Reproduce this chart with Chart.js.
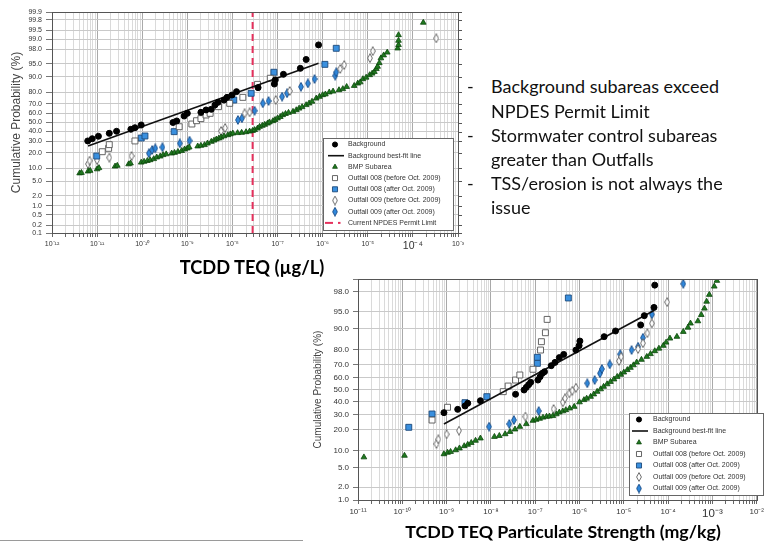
<!DOCTYPE html>
<html>
<head>
<meta charset="utf-8">
<script src="https://cdn.jsdelivr.net/npm/chart.js@4.4.1/dist/chart.umd.min.js"></script>
<style>
  html, body { margin: 0; padding: 0; background: #fff; }
  body { width: 767px; height: 543px; position: relative; overflow: hidden; }
  .box { position: absolute; }
  .xtitle { position: absolute; font-family: Lato, sans-serif; font-weight: bold; color: #000; text-align: center; white-space: nowrap; }
  .bl { position: absolute; left: 491px; font-family: Lato, sans-serif; font-size: 18px; line-height: 24.2px; color: #111; white-space: nowrap; }
  .bl .dash { position: absolute; left: -24px; }
  #rule { position: absolute; left: 0; top: 540px; width: 303px; height: 1px; background: #9a9a9a; }
</style>
</head>
<body>
<div class="box" style="left:0;top:0;width:470px;height:250px"><canvas id="topChart" width="470" height="250"></canvas></div>
<div class="box" style="left:300px;top:268px;width:467px;height:275px"><canvas id="botChart" width="467" height="275"></canvas></div>

<div class="xtitle" style="left:152px;top:258px;width:200px;font-size:18.3px;line-height:18px">TCDD TEQ (µg/L)</div>
<div class="xtitle" style="left:363px;top:522px;width:400px;font-size:17.8px;line-height:18px">TCDD TEQ Particulate Strength (mg/kg)</div>

<div class="bl" style="top:74.3px"><span class="dash">-</span>Background subareas exceed</div>
<div class="bl" style="top:98.5px">NPDES Permit Limit</div>
<div class="bl" style="top:122.7px"><span class="dash">-</span>Stormwater control subareas</div>
<div class="bl" style="top:146.9px">greater than Outfalls</div>
<div class="bl" style="top:171.1px"><span class="dash">-</span>TSS/erosion is not always the</div>
<div class="bl" style="top:195.3px">issue</div>
<div id="rule"></div>

<script>
// [concentration, cumulative probability %]
const seriesLabels = ['Background', 'Background best-fit line', 'BMP Subarea',
  'Outfall 008 (before Oct. 2009)', 'Outfall 008 (after Oct. 2009)',
  'Outfall 009 (before Oct. 2009)', 'Outfall 009 (after Oct. 2009)', 'Current NPDES Permit Limit'];

const topProbTicks = [0.1, 0.2, 0.5, 1, 2, 5, 10, 20, 30, 40, 50, 60, 70, 80, 90, 95, 98, 99, 99.5, 99.8, 99.9];
const botProbTicks = [1, 2, 5, 10, 20, 30, 40, 50, 60, 70, 80, 90, 95, 98, 99];
const permitLimit = 2.8e-8;

const topBackground = [[6.2e-12, 30.3], [7.8e-12, 32.5], [1.07e-11, 35.0], [1.86e-11, 38.1], [2.7e-11, 40.3],
  [5.6e-11, 42.5], [6.9e-11, 44.2], [9.5e-11, 47.2], [4.8e-10, 50.0], [5.8e-10, 51.7], [8.5e-10, 57.2],
  [1.0e-9, 60.1], [2.0e-9, 61.2], [2.6e-9, 63.7], [3.4e-9, 64.4], [4.1e-9, 68.8], [4.8e-9, 71.4],
  [6.5e-9, 73.5], [7.6e-9, 75.9], [9.8e-9, 77.9], [1.23e-8, 80.6], [3.7e-8, 83.5], [8.5e-8, 85.9],
  [8.9e-8, 88.3], [1.35e-7, 91.1], [3.2e-7, 93.5], [4.3e-7, 96.1], [8.1e-7, 98.5]];
const topFit = [[6.3e-12, 25.6], [8.1e-7, 95.1]];
const topBmp = [[4.1e-12, 7.8], [4.5e-12, 8.0], [6.3e-12, 8.6], [7.0e-12, 8.9], [1.0e-11, 9.6], [1.1e-11, 10.2],
  [2.5e-11, 11.0], [2.8e-11, 11.4], [5.0e-11, 12.2], [5.5e-11, 12.7], [9.5e-11, 13.2], [1.1e-10, 13.7],
  [1.3e-10, 14.2], [1.5e-10, 14.7], [1.8e-10, 15.4], [2.1e-10, 16.5], [2.5e-10, 17.2], [2.9e-10, 18.2],
  [3.4e-10, 18.8], [4.5e-10, 19.4], [5.2e-10, 19.9], [6.2e-10, 20.7], [7.5e-10, 21.4], [8.7e-10, 22.7],
  [1.0e-9, 23.5], [1.1e-9, 24.4], [1.7e-9, 25.3], [2.0e-9, 25.9], [2.4e-9, 26.5], [2.8e-9, 28.0],
  [3.4e-9, 29.6], [3.9e-9, 30.8], [4.4e-9, 31.9], [5.0e-9, 32.9], [5.6e-9, 33.9], [6.5e-9, 35.2],
  [7.9e-9, 36.3], [9.0e-9, 37.2], [1.02e-8, 38.1], [1.3e-8, 38.5], [1.6e-8, 38.8], [2.0e-8, 39.5],
  [2.4e-8, 40.2], [2.8e-8, 40.9], [3.1e-8, 41.8], [3.6e-8, 43.5], [4.0e-8, 45.3], [4.6e-8, 46.5],
  [5.2e-8, 47.6], [6.0e-8, 49.0], [6.6e-8, 50.3], [7.9e-8, 51.7], [8.8e-8, 53.0], [1.0e-7, 54.7],
  [1.15e-7, 56.3], [1.3e-7, 58.3], [1.5e-7, 59.6], [1.75e-7, 60.8], [2.2e-7, 61.9], [2.6e-7, 63.6],
  [3.0e-7, 65.3], [3.5e-7, 66.8], [4.3e-7, 68.8], [5.0e-7, 70.4], [5.8e-7, 72.1], [7.2e-7, 75.0],
  [8.5e-7, 76.5], [1.0e-6, 77.9], [1.15e-6, 78.5], [1.4e-6, 80.1], [1.7e-6, 80.8], [2.3e-6, 81.8],
  [2.8e-6, 82.6], [3.4e-6, 84.1], [5.0e-6, 84.8], [6.0e-6, 86.3], [6.8e-6, 87.0], [7.8e-6, 88.8],
  [9.2e-6, 89.6], [1.1e-5, 90.8], [1.25e-5, 91.5], [1.4e-5, 92.2], [1.55e-5, 93.3], [1.65e-5, 94.1],
  [1.8e-5, 95.2], [1.95e-5, 96.4], [2.25e-5, 97.0], [2.7e-5, 97.5], [4.6e-5, 98.1], [4.8e-5, 98.5],
  [4.8e-5, 98.9], [4.8e-5, 99.28], [1.7e-4, 99.74]];
const topOut008Before = [[1.3e-11, 20.7], [1.8e-11, 23.5], [1.86e-11, 26.8], [6.9e-11, 30.3], [6.6e-10, 45.3],
  [1.26e-9, 48.3], [1.6e-9, 52.0], [2.0e-9, 54.3], [2.6e-9, 58.3], [3.2e-9, 60.1], [4.9e-9, 67.1],
  [8.7e-9, 70.4], [1.7e-8, 75.9], [3.6e-8, 85.7], [6.9e-8, 89.2]];
const topOut008After = [[9.8e-12, 17.4], [9.5e-11, 33.2], [1.15e-10, 35.3], [5.1e-10, 39.9], [1.07e-8, 73.5],
  [2.6e-8, 79.3], [8.3e-8, 92.0], [1.12e-6, 94.8], [2.0e-6, 98.1]];
const topOut009Before = [[6.3e-12, 12.3], [6.8e-12, 14.3], [1.0e-11, 14.7], [1.86e-11, 16.3], [5.8e-11, 17.4],
  [5.6e-9, 40.6], [6.9e-9, 43.9], [1.86e-8, 60.1], [2.4e-8, 61.2], [9.1e-8, 73.5], [1.86e-7, 81.1],
  [2.45e-6, 93.3], [3.0e-6, 94.6], [1.12e-5, 96.4], [1.29e-5, 97.7], [3.3e-4, 99.07]];
const topOut009After = [[1.4e-10, 19.4], [1.66e-10, 22.1], [1.95e-10, 23.5], [2.8e-10, 24.4], [6.8e-10, 28.0],
  [1.12e-9, 30.6], [1.32e-8, 52.8], [1.62e-8, 54.7], [3.1e-8, 62.9], [4.7e-8, 70.4], [6.3e-8, 72.6],
  [1.26e-7, 76.5], [1.62e-7, 79.3], [3.3e-7, 84.1], [4.7e-7, 86.3], [6.6e-7, 88.8], [1.9e-6, 90.5], [2.0e-6, 92.0]];

const botBackground = [[8.7e-10, 31.3], [1.78e-9, 33.8], [2.6e-9, 36.4], [3.0e-9, 38.6], [5.8e-9, 40.7],
  [3.6e-8, 46.0], [5.6e-8, 49.6], [6.3e-8, 51.8], [7.1e-8, 54.0], [7.9e-8, 56.0], [1.15e-7, 57.9],
  [1.29e-7, 60.6], [1.45e-7, 63.3], [1.62e-7, 64.6], [2.3e-7, 69.2], [2.8e-7, 71.6], [3.5e-7, 74.9],
  [4.4e-7, 77.0], [8.3e-7, 79.7], [9.8e-7, 82.2], [1.02e-6, 84.6], [3.6e-6, 86.7], [6.5e-6, 89.1],
  [2.4e-5, 91.3], [2.9e-5, 94.0], [4.8e-5, 95.8], [5.0e-5, 98.6]];
const botFit = [[8.7e-10, 23.4], [4.8e-5, 95.2]];
const botBmp = [[1.36e-11, 7.7], [1.12e-10, 8.2], [8.7e-10, 8.7], [1.05e-9, 9.2], [1.23e-9, 9.5], [1.6e-9, 10.1],
  [1.95e-9, 10.8], [2.5e-9, 11.7], [3.0e-9, 12.3], [3.6e-9, 13.1], [4.5e-9, 14.1], [5.8e-9, 15.2],
  [1.2e-8, 16.0], [1.55e-8, 16.5], [2.1e-8, 17.4], [2.7e-8, 18.7], [3.5e-8, 20.1], [4.5e-8, 21.7],
  [6.3e-8, 23.4], [8.9e-8, 25.6], [1.05e-7, 26.3], [1.26e-7, 27.0], [1.5e-7, 27.8], [1.8e-7, 28.4],
  [2.1e-7, 28.6], [2.5e-7, 28.9], [3.0e-7, 30.2], [3.5e-7, 31.5], [4.2e-7, 32.4], [4.9e-7, 33.3],
  [6.0e-7, 34.6], [7.6e-7, 35.9], [1.0e-6, 39.5], [1.26e-6, 41.3], [1.45e-6, 42.5], [1.78e-6, 44.0],
  [2.1e-6, 46.0], [2.5e-6, 48.2], [3.0e-6, 50.3], [3.5e-6, 52.4], [4.2e-6, 54.5], [5.0e-6, 56.5],
  [6.0e-6, 58.5], [7.1e-6, 60.6], [8.5e-6, 62.3], [1.0e-5, 64.1], [1.2e-5, 66.0], [1.41e-5, 67.7],
  [1.65e-5, 69.6], [1.95e-5, 71.6], [2.5e-5, 73.5], [3.3e-5, 75.5], [4.0e-5, 77.3], [5.0e-5, 79.1],
  [6.2e-5, 80.6], [7.8e-5, 82.2], [9.0e-5, 83.9], [1.1e-4, 85.9], [1.58e-4, 86.7], [2.2e-4, 88.8],
  [2.8e-4, 90.4], [3.2e-4, 91.8], [4.7e-4, 92.5], [5.6e-4, 94.2], [6.6e-4, 95.6], [7.4e-4, 96.8],
  [8.5e-4, 97.7], [1.1e-3, 98.5], [1.26e-3, 98.9]];
const botOut008Before = [[4.7e-10, 26.0], [1.05e-9, 35.4], [1.9e-8, 48.2], [2.45e-8, 52.9], [3.6e-8, 57.9],
  [4.5e-8, 62.0], [8.9e-8, 66.5], [1.32e-7, 79.7], [1.38e-7, 84.3], [1.7e-7, 88.4], [1.86e-7, 93.0]];
const botOut008After = [[1.4e-10, 21.3], [4.7e-10, 30.3], [2.6e-9, 39.1], [8.1e-9, 44.0], [1.12e-7, 70.9],
  [1.12e-7, 75.1], [5.6e-7, 97.3]];
const botOut009Before = [[5.9e-10, 12.6], [6.5e-10, 14.7], [1.0e-9, 17.3], [1.9e-9, 19.3], [6.0e-8, 28.4],
  [2.6e-7, 34.1], [4.2e-7, 39.4], [4.7e-7, 42.6], [5.9e-7, 46.8], [6.9e-7, 49.0], [8.3e-7, 51.5],
  [7.8e-6, 72.6], [8.7e-6, 75.5], [2.1e-5, 80.3], [2.7e-5, 83.5], [3.4e-5, 88.2], [4.3e-5, 91.8], [9.5e-5, 96.7]];
const botOut009After = [[9.1e-9, 21.7], [2.6e-8, 23.4], [3.3e-8, 26.0], [1.2e-7, 32.5], [1.5e-6, 55.2],
  [2.2e-6, 57.9], [2.9e-6, 63.3], [3.2e-6, 66.7], [4.8e-6, 70.2], [8.3e-6, 77.1], [1.5e-5, 79.7],
  [2.1e-5, 81.6], [2.7e-5, 86.2], [4.3e-5, 94.3], [2.2e-4, 98.7]];

// inverse normal (Acklam) - probability axis
function probit(p) {
  const a = [-3.969683028665376e+01, 2.209460984245205e+02, -2.759285104469687e+02, 1.383577518672690e+02, -3.066479806614716e+01, 2.506628277459239e+00];
  const b = [-5.447609879822406e+01, 1.615858368580409e+02, -1.556989798598866e+02, 6.680131188771972e+01, -1.328068155288572e+01];
  const c = [-7.784894002430293e-03, -3.223964580411365e-01, -2.400758277161838e+00, -2.549732539343734e+00, 4.374664141464968e+00, 2.938163982698783e+00];
  const d = [7.784695709041462e-03, 3.224671290700398e-01, 2.445134137142996e+00, 3.754408661907416e+00];
  let q, r;
  if (p < 0.02425) {
    q = Math.sqrt(-2 * Math.log(p));
    return (((((c[0]*q+c[1])*q+c[2])*q+c[3])*q+c[4])*q+c[5]) / ((((d[0]*q+d[1])*q+d[2])*q+d[3])*q+1);
  }
  if (p > 1 - 0.02425) {
    q = Math.sqrt(-2 * Math.log(1 - p));
    return -(((((c[0]*q+c[1])*q+c[2])*q+c[3])*q+c[4])*q+c[5]) / ((((d[0]*q+d[1])*q+d[2])*q+d[3])*q+1);
  }
  q = p - 0.5; r = q * q;
  return (((((a[0]*r+a[1])*r+a[2])*r+a[3])*r+a[4])*r+a[5])*q / (((((b[0]*r+b[1])*r+b[2])*r+b[3])*r+b[4])*r+1);
}

function pts(arr) {
  return arr.map(d => ({ x: d[0], y: probit(d[1] / 100) }));
}

function diamond(fill, stroke) {
  const c = document.createElement('canvas');
  c.width = 6; c.height = 10;
  const g = c.getContext('2d');
  g.beginPath();
  g.moveTo(3, 0.6); g.lineTo(5.4, 5); g.lineTo(3, 9.4); g.lineTo(0.6, 5); g.closePath();
  g.fillStyle = fill; g.fill();
  g.lineWidth = 0.9; g.strokeStyle = stroke; g.stroke();
  return c;
}
const openDiamond = diamond('#ffffff', '#5e5e5e');
const blueDiamond = diamond('#2f88dc', '#1c4c86');

const supMap = { '-': '\u207b', '0': '\u2070', '1': '\u00b9', '2': '\u00b2', '3': '\u00b3', '4': '\u2074',
  '5': '\u2075', '6': '\u2076', '7': '\u2077', '8': '\u2078', '9': '\u2079' };
function sup(n) { return String(n).split('').map(ch => supMap[ch]).join(''); }

function logTicks(lo, hi) {
  const t = [];
  for (let e = lo; e <= hi; e++) {
    for (let m = 1; m <= 9; m++) {
      if (e === hi && m > 1) break;
      t.push({ value: m * Math.pow(10, e), major: m === 1 });
    }
  }
  return t;
}

function buildSets(s) {
  return [
    { label: seriesLabels[0], data: pts(s.bg), pointStyle: 'circle', pointRadius: 3, backgroundColor: '#000', borderColor: '#000', borderWidth: 1 },
    { label: seriesLabels[1], data: pts(s.fit), showLine: true, pointRadius: 0, borderColor: '#111', borderWidth: 1.6 },
    { label: seriesLabels[2], data: pts(s.bmp), pointStyle: 'triangle', pointRadius: 3.3, backgroundColor: '#1f7a1f', borderColor: '#0c460c', borderWidth: 0.8 },
    { label: seriesLabels[3], data: pts(s.o8b), pointStyle: 'rect', pointRadius: 4.2, backgroundColor: '#fff', borderColor: '#555', borderWidth: 0.9 },
    { label: seriesLabels[4], data: pts(s.o8a), pointStyle: 'rect', pointRadius: 4.2, backgroundColor: '#3a90df', borderColor: '#1d4a7a', borderWidth: 0.9 },
    { label: seriesLabels[5], data: pts(s.o9b), pointStyle: openDiamond, pointRadius: 4, backgroundColor: '#fff', borderColor: '#5e5e5e', borderWidth: 0.9 },
    { label: seriesLabels[6], data: pts(s.o9a), pointStyle: blueDiamond, pointRadius: 4, backgroundColor: '#2f88dc', borderColor: '#1c4c86', borderWidth: 0.9 }
  ];
}

// frame round the plot area
const framePlugin = {
  id: 'frame',
  afterDatasetsDraw(chart, args, o) {
    const { ctx, chartArea: a } = chart;
    ctx.save();
    ctx.strokeStyle = '#555';
    ctx.lineWidth = 1;
    ctx.strokeRect(Math.round(a.left) + 0.5, Math.round(a.top) + 0.5, Math.round(a.right - a.left), Math.round(a.bottom - a.top));
    if (o.rightTicks) {
      chart.scales.y.ticks.forEach(t => {
        const y = Math.round(chart.scales.y.getPixelForValue(t.value)) + 0.5;
        ctx.beginPath(); ctx.moveTo(a.right, y); ctx.lineTo(a.right + 4, y); ctx.stroke();
      });
    }
    ctx.restore();
  }
};

// legend drawn inside the plot
const innerLegend = {
  id: 'innerLegend',
  afterDraw(chart, args, o) {
    const ctx = chart.ctx;
    ctx.save();
    ctx.fillStyle = '#fff';
    ctx.fillRect(o.x, o.y, o.w, o.h);
    ctx.strokeStyle = '#666';
    ctx.lineWidth = 1;
    ctx.strokeRect(o.x + 0.5, o.y + 0.5, o.w, o.h);
    ctx.font = '7px "Liberation Sans", Arial, sans-serif';
    ctx.textBaseline = 'middle';
    chart.data.datasets.forEach((ds, i) => {
      const y = o.row0 + i * o.rowH;
      ctx.strokeStyle = ds.borderColor;
      ctx.lineWidth = ds.borderWidth;
      if (ds.showLine && ds.borderDash) {
        ctx.beginPath(); ctx.moveTo(o.symX - 10, y); ctx.lineTo(o.symX - 2, y); ctx.stroke();
        ctx.beginPath(); ctx.moveTo(o.symX + 3, y); ctx.lineTo(o.symX + 5.5, y); ctx.stroke();
      } else if (ds.showLine) {
        ctx.beginPath(); ctx.moveTo(o.symX - 7, y); ctx.lineTo(o.symX + 9, y); ctx.stroke();
      } else {
        ctx.fillStyle = ds.backgroundColor;
        Chart.helpers.drawPoint(ctx, { pointStyle: ds.pointStyle, radius: ds.pointRadius * 0.85, borderWidth: ds.borderWidth, rotation: 0 }, o.symX, y);
      }
      ctx.fillStyle = '#333';
      ctx.fillText(ds.label, o.textX, y);
    });
    ctx.restore();
  }
};

Chart.defaults.font.family = '"Liberation Sans", Arial, sans-serif';

function makeChart(id, cfg) {
  new Chart(document.getElementById(id), {
    type: 'scatter',
    data: { datasets: cfg.datasets },
    options: {
      responsive: false,
      animation: false,
      events: [],
      layout: { padding: cfg.padding },
      plugins: { legend: { display: false }, tooltip: { enabled: false }, frame: cfg.frame, innerLegend: cfg.legend },
      scales: {
        x: {
          type: 'logarithmic',
          min: cfg.xMin, max: cfg.xMax,
          afterBuildTicks: s => { s.ticks = logTicks(Math.round(Math.log10(cfg.xMin)), Math.round(Math.log10(cfg.xMax))); },
          afterFit: s => { s.height = cfg.xHeight; },
          border: { display: false },
          grid: { color: c => (c.tick && c.tick.major ? '#a9a9a9' : '#dadada'), tickLength: 4, tickColor: '#666' },
          ticks: {
            autoSkip: false, maxRotation: 0, padding: 3, color: '#333',
            font: c => ({ size: c.tick && c.tick.major && Math.round(Math.log10(c.tick.value)) === cfg.bigExp ? cfg.tickSize + 3.5 : cfg.tickSize }),
            callback: (v, i, t) => (t[i].major ? '10' + sup(Math.round(Math.log10(v))) : '')
          }
        },
        y: {
          type: 'linear',
          min: probit(cfg.probTicks[0] / 100),
          max: probit(cfg.probTicks[cfg.probTicks.length - 1] / 100),
          afterBuildTicks: s => { s.ticks = cfg.probTicks.map(p => ({ value: probit(p / 100) })); },
          afterFit: s => { s.width = cfg.yWidth; },
          border: { display: false },
          grid: { color: '#c9c9c9', tickLength: cfg.yTickLen, tickColor: '#777' },
          ticks: {
            autoSkip: false, padding: 4, color: '#333', font: { size: cfg.tickSize },
            callback: (v, i) => (cfg.hideTop && i === cfg.probTicks.length - 1 ? '' : cfg.probTicks[i].toFixed(1))
          },
          title: { display: true, text: 'Cumulative Probability (%)', color: '#444', font: { size: cfg.titleSize }, padding: { top: cfg.titlePad } }
        }
      }
    },
    plugins: [framePlugin, innerLegend]
  });
}

const topSets = buildSets({ bg: topBackground, fit: topFit, bmp: topBmp, o8b: topOut008Before, o8a: topOut008After, o9b: topOut009Before, o9a: topOut009After });
topSets.push({
  label: seriesLabels[7],
  data: [{ x: permitLimit, y: probit(topProbTicks[0] / 100) }, { x: permitLimit, y: probit(topProbTicks[topProbTicks.length - 1] / 100) }],
  showLine: true, pointRadius: 0, borderColor: '#e5305c', borderWidth: 2, borderDash: [7, 5]
});

makeChart('topChart', {
  datasets: topSets,
  padding: { left: 0, top: 12, right: 12, bottom: 0 },
  xMin: 1e-12, xMax: 1e-3, xHeight: 17, yWidth: 52, yTickLen: 6,
  probTicks: topProbTicks, tickSize: 7, titleSize: 12, titlePad: 9, bigExp: -4, hideTop: false,
  frame: { rightTicks: true },
  legend: { x: 323, y: 138, w: 130, h: 92, row0: 144.5, rowH: 11.2, symX: 335, textX: 348 }
});

makeChart('botChart', {
  datasets: buildSets({ bg: botBackground, fit: botFit, bmp: botBmp, o8b: botOut008Before, o8a: botOut008After, o9b: botOut009Before, o9a: botOut009After }),
  padding: { left: 0, top: 11, right: 5, bottom: 0 },
  xMin: 1e-11, xMax: 1e-2, xHeight: 43, yWidth: 58, yTickLen: 5,
  probTicks: botProbTicks, tickSize: 8, titleSize: 10, titlePad: 12, bigExp: -3, hideTop: true,
  frame: { rightTicks: false },
  legend: { x: 329, y: 145, w: 134, h: 82, row0: 151.5, rowH: 11.5, symX: 339, textX: 353 }
});
</script>
</body>
</html>
